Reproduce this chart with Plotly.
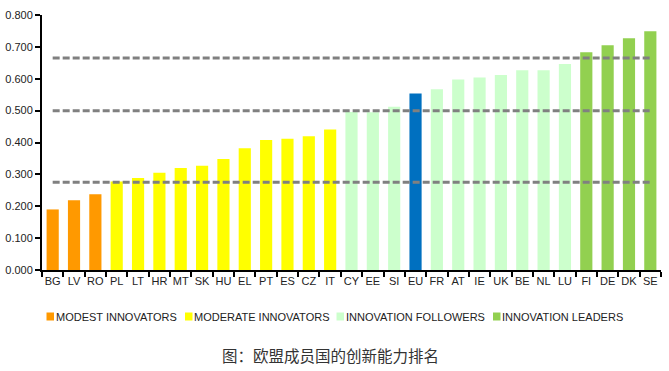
import plotly.graph_objects as go

countries = ["BG", "LV", "RO", "PL", "LT", "HR", "MT", "SK", "HU", "EL", "PT", "ES", "CZ", "IT",
             "CY", "EE", "SI", "EU", "FR", "AT", "IE", "UK", "BE", "NL", "LU", "FI", "DE", "DK", "SE"]
scores = [0.190, 0.219, 0.238, 0.278, 0.289, 0.305, 0.320, 0.327, 0.348, 0.382, 0.408, 0.412, 0.420, 0.441,
          0.496, 0.495, 0.512, 0.554, 0.567, 0.598, 0.604, 0.612, 0.627, 0.627, 0.646, 0.683, 0.705, 0.727, 0.749]
groups = ["modest"] * 3 + ["moderate"] * 11 + ["follower"] * 3 + ["eu"] + ["follower"] * 7 + ["leader"] * 4

group_keys = ["modest", "moderate", "follower", "leader", "eu"]
group_colors = ["#FF9900", "#FFFF00", "#CCFFCC", "#92D050", "#0070C0"]
legend_labels = ["MODEST INNOVATORS", "MODERATE INNOVATORS", "INNOVATION FOLLOWERS", "INNOVATION LEADERS"]

thresholds = [0.275, 0.500, 0.665]
y_ticks = [0.0, 0.1, 0.2, 0.3, 0.4, 0.5, 0.6, 0.7, 0.8]
caption = "图：欧盟成员国的创新能力排名"

color_of = dict(zip(group_keys, group_colors))

W, H = 669, 371
ML, MR, MT, MB = 42, 8, 15, 101
PW, PH = W - ML - MR, H - MT - MB

fig = go.Figure()
fig.add_trace(go.Bar(
    x=countries, y=scores, width=0.57,
    marker=dict(color=[color_of[g] for g in groups], line=dict(width=0)),
    showlegend=False,
))
for t in thresholds:
    fig.add_trace(go.Scatter(
        x=[countries[0], countries[-1]], y=[t, t], mode="lines",
        line=dict(color="#808080", width=3, dash="7px,3px"),
        showlegend=False, hoverinfo="skip",
    ))

font = "Liberation Sans, Arial, sans-serif"

# manual legend (squares + labels) placed in pixel positions below the plot
leg_px = [46.5, 185, 336.5, 493]
leg_y_px = 316.5
shapes = []
annotations = []
for px, lab, col in zip(leg_px, legend_labels, group_colors[:4]):
    x0 = (px - ML) / PW
    x1 = (px + 7.5 - ML) / PW
    y0 = (MT + PH - (leg_y_px + 4)) / PH
    y1 = (MT + PH - (leg_y_px - 4)) / PH
    shapes.append(dict(type="rect", xref="paper", yref="paper", x0=x0, x1=x1, y0=y0, y1=y1,
                       fillcolor=col, line=dict(width=0)))
    annotations.append(dict(text=lab, xref="paper", yref="paper",
                            x=(px + 7 - ML) / PW, y=(MT + PH - leg_y_px) / PH,
                            xanchor="left", yanchor="middle", showarrow=False,
                            font=dict(family=font, size=11, color="#222222")))

annotations.append(dict(text=caption, xref="paper", yref="paper",
                        x=(330 - ML) / PW, y=(MT + PH - 355) / PH,
                        xanchor="center", yanchor="middle", showarrow=False,
                        font=dict(family="Noto Sans CJK SC, sans-serif", size=15.5, color="#333333")))

fig.update_layout(
    width=W, height=H,
    margin=dict(l=ML, r=MR, t=MT, b=MB, pad=0, autoexpand=False),
    paper_bgcolor="white", plot_bgcolor="white",
    barmode="overlay",
    showlegend=False,
    font=dict(family=font, size=11, color="#222222"),
    shapes=shapes, annotations=annotations,
    xaxis=dict(type="category", categoryorder="array", categoryarray=countries,
               range=[-0.5, len(countries) - 0.5], automargin=False, tickangle=0,
               showline=True, linecolor="black", linewidth=2,
               ticks="outside", tickson="boundaries", ticklen=5, tickwidth=1.5, tickcolor="black",
               showgrid=False, zeroline=False, fixedrange=True,
               tickfont=dict(family=font, size=11, color="#222222")),
    yaxis=dict(range=[0, 0.8], tickvals=y_ticks, tickformat=".3f", automargin=False,
               showline=True, linecolor="black", linewidth=2,
               ticks="outside", ticklen=5, tickwidth=1.5, tickcolor="black",
               showgrid=False, zeroline=False, fixedrange=True,
               tickfont=dict(family=font, size=11, color="#222222")),
)

fig.write_html("out.html", config={"displayModeBar": False},
               post_script="document.body.style.margin='0';document.body.style.overflow='hidden';")
